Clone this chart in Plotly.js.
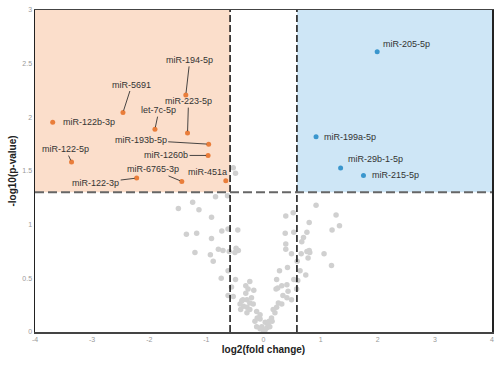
<!DOCTYPE html>
<html><head><meta charset="utf-8">
<script src="https://cdn.plot.ly/plotly-3.0.1.min.js"></script>
<style>html,body{margin:0;padding:0;background:#fff}#chart{width:499px;height:369px}</style>
</head><body><div id="chart"></div>
<script>
// Down-regulated (significant) miRNAs
const downNames = ["miR-122b-3p","miR-122-5p","miR-5691","let-7c-5p","miR-194-5p","miR-223-5p","miR-193b-5p","miR-1260b","miR-6765-3p","miR-122-3p","miR-451a"];
const downX = [-3.69,-3.36,-2.46,-1.90,-1.36,-1.33,-0.96,-0.97,-1.43,-2.22,-0.66];
const downY = [1.955,1.583,2.045,1.89,2.209,1.853,1.75,1.645,1.403,1.434,1.41];

// Up-regulated (significant) miRNAs
const upNames = ["miR-205-5p","miR-199a-5p","miR-29b-1-5p","miR-215-5p"];
const upX = [1.99,0.92,1.35,1.75];
const upY = [2.612,1.82,1.527,1.459];

// Not significant miRNAs
const nsX = [-1.49,-1.24,-1.13,-0.84,-0.63,-0.91,-1.35,-1.17,-0.73,-0.62,-0.45,-0.91,-1.20,-0.93,-0.88,-0.79,-0.71,-0.60,-0.48,-0.44,-0.50,-0.62,-0.74,-0.49,-0.56,-0.62,-0.53,-0.41,-0.35,-0.40,-0.29,-0.38,-0.29,-0.31,-0.27,-0.31,-0.24,-0.17,-0.29,-0.21,-0.18,-0.24,-0.12,-0.06,-0.11,-0.06,0.03,0.08,-0.03,0.06,0.03,-0.06,-0.12,0.00,0.10,0.14,0.20,0.17,0.23,0.32,0.26,0.41,0.49,0.58,0.53,0.22,0.25,0.32,0.41,0.23,0.28,0.42,0.49,0.39,0.39,0.38,0.53,0.39,0.52,0.92,1.27,0.80,1.33,1.20,0.76,0.70,0.67,0.80,0.76,0.81,0.78,0.66,1.06,1.19,0.74,0.64,-0.53,-0.49,0.59,0.60,-0.24,-0.36,0.34,0.43,-0.15,0.11,0.15];
const nsY = [1.15,1.21,1.14,1.26,1.27,1.07,0.91,0.92,0.94,0.96,0.95,0.87,0.74,0.72,0.66,0.77,0.76,0.75,0.78,0.76,0.74,0.57,0.50,0.49,0.42,0.34,0.33,0.26,0.24,0.21,0.23,0.29,0.18,0.43,0.40,0.36,0.47,0.39,0.30,0.32,0.26,0.21,0.19,0.16,0.13,0.12,0.09,0.07,0.05,0.04,0.02,0.03,0.05,0.01,0.10,0.13,0.18,0.21,0.23,0.26,0.27,0.32,0.30,0.40,0.49,0.40,0.41,0.43,0.44,0.49,0.57,0.60,0.73,0.77,0.82,0.92,0.93,1.08,1.11,1.18,1.09,1.02,0.99,0.95,0.93,0.88,0.84,0.76,0.75,0.74,0.69,0.73,0.73,0.62,0.53,0.57,1.53,1.48,0.66,0.48,0.27,0.30,0.34,0.38,0.10,0.05,0.10];

// Thresholds
const fcCut = 0.585;
const pCut = 1.301;
const xTicks = [-4,-3,-2,-1,0,1,2,3,4];
const yTicks = [0,0.5,1,1.5,2,2.5,3];

// Label placement (pixel offsets, layout only)
const downOff = [[36,0,0],[-6,-13,1],[9,-28,1],[4,-19,1],[4,-35,1],[1,-32,1],[-68,-4,1],[-42,0,1],[-29,-12,1],[-41,5,1],[-18,-9,0]];
const upOff = [[29,-8,0],[34,0,0],[35,-9,0],[32,0,0]];

const orange = "rgb(233,125,58)";
const blue = "rgb(58,150,205)";

const traces = [
  {x: nsX, y: nsY, type: "scatter", mode: "markers", marker: {color: "rgb(208,208,208)", size: 5.5}, hoverinfo: "skip"},
  {x: downX, y: downY, text: downNames, type: "scatter", mode: "markers", marker: {color: orange, size: 5}},
  {x: upX, y: upY, text: upNames, type: "scatter", mode: "markers", marker: {color: blue, size: 5}}
];

const annotations = [];
function addLabels(names, xs, ys, offs) {
  names.forEach((n, i) => {
    annotations.push({
      x: xs[i], y: ys[i], xref: "x", yref: "y", text: n,
      showarrow: true, arrowhead: 0, arrowwidth: 0.9,
      arrowcolor: offs[i][2] ? "#333" : "rgba(0,0,0,0)",
      ax: offs[i][0], ay: offs[i][1], standoff: 2,
      font: {family: "Liberation Sans, Arial, sans-serif", size: 9, color: "#333"}
    });
  });
}
addLabels(downNames, downX, downY, downOff);
addLabels(upNames, upX, upY, upOff);

const shapes = [
  {type: "rect", xref: "x", yref: "y", x0: -4, x1: -fcCut, y0: pCut, y1: 3, fillcolor: "rgb(251,222,203)", line: {width: 0}, layer: "below"},
  {type: "rect", xref: "x", yref: "y", x0: fcCut, x1: 4, y0: pCut, y1: 3, fillcolor: "rgb(206,230,246)", line: {width: 0}, layer: "below"},
  {type: "line", xref: "x", yref: "y", x0: -fcCut, x1: -fcCut, y0: 0, y1: 3, line: {color: "#111", width: 1.5, dash: "7px,3px"}},
  {type: "line", xref: "x", yref: "y", x0: fcCut, x1: fcCut, y0: 0, y1: 3, line: {color: "#111", width: 1.5, dash: "7px,3px"}},
  {type: "line", xref: "x", yref: "y", x0: -4, x1: 4, y0: pCut, y1: pCut, line: {color: "#666", width: 2, dash: "9px,4px"}}
];

const tickFont = {family: "Liberation Sans, Arial, sans-serif", size: 7, color: "#999"};
const layout = {
  width: 499, height: 369,
  margin: {l: 35, r: 7, t: 10, b: 37},
  paper_bgcolor: "#fff", plot_bgcolor: "#fff",
  showlegend: false,
  xaxis: {range: [-4, 4], tickvals: xTicks, ticktext: xTicks.map(String), tickfont: tickFont,
    showgrid: false, zeroline: false, showline: true, linecolor: "#444", linewidth: 1.5, mirror: true, ticks: "",
    title: {text: "log2(fold change)", font: {family: "Liberation Sans, Arial, sans-serif", size: 10, color: "#222", weight: "bold"}, standoff: 4}},
  yaxis: {range: [0, 3], tickvals: yTicks, ticktext: yTicks.map(String), tickfont: tickFont,
    showgrid: false, zeroline: false, showline: true, linecolor: "#222", linewidth: 1.5, mirror: true, ticks: "",
    title: {text: "-log10(p-value)", font: {family: "Liberation Sans, Arial, sans-serif", size: 10, color: "#222", weight: "bold"}, standoff: 4}},
  shapes: shapes,
  annotations: annotations
};
Plotly.newPlot("chart", traces, layout, {displayModeBar: false, staticPlot: true});
</script></body></html>
